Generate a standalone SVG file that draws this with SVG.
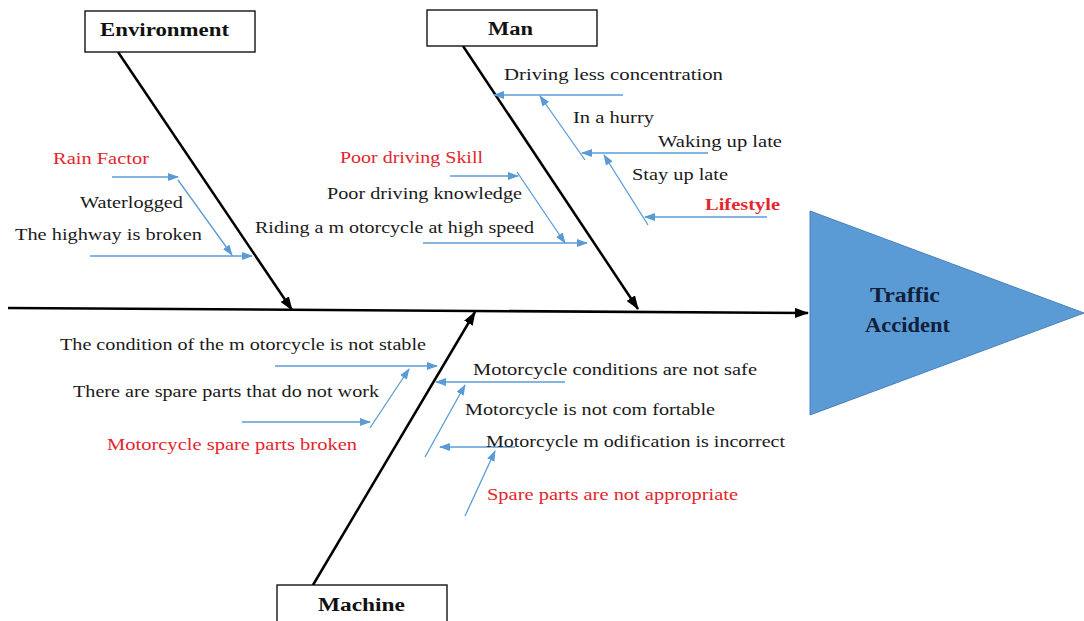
<svg xmlns="http://www.w3.org/2000/svg" width="1084" height="621" viewBox="0 0 1084 621">
<defs>
<marker id="ab" markerUnits="userSpaceOnUse" markerWidth="14" markerHeight="10" refX="13" refY="5" orient="auto"><path d="M0,0 L14,5 L0,10 Z" fill="#000"/></marker>
<marker id="au" markerUnits="userSpaceOnUse" markerWidth="11" markerHeight="8" refX="10" refY="4" orient="auto"><path d="M0,0 L11,4 L0,8 Z" fill="#5b9bd5"/></marker>
<style>
.bone{stroke:#000;stroke-width:2.5;fill:none;marker-end:url(#ab)}
.sub{stroke:#5b9bd5;stroke-width:1.3;fill:none;marker-end:url(#au)}
.box{fill:#fff;stroke:#000;stroke-width:1.3}
.t{font-family:"Liberation Serif","Times New Roman",serif;font-size:16.5px;fill:#1a1a1a}
.r{fill:#e3262d}
.b{font-weight:bold}
.h{font-family:"Liberation Serif","Times New Roman",serif;font-size:18px;font-weight:bold;fill:#111}
.ta{font-family:"Liberation Serif","Times New Roman",serif;font-size:21px;font-weight:bold;fill:#10203a}
</style>
</defs>
<rect width="1084" height="621" fill="#fff"/>
<g id="connectors">
<line class="bone" x1="8" y1="308" x2="808" y2="313"/>
<line class="bone" x1="118" y1="52" x2="292" y2="310"/>
<line class="bone" x1="463" y1="46" x2="638" y2="309"/>
<line class="bone" x1="313" y1="585" x2="475" y2="312"/>
<line class="sub" x1="112" y1="177" x2="178" y2="177"/>
<line class="sub" x1="178" y1="180" x2="232" y2="255"/>
<line class="sub" x1="90" y1="256" x2="252" y2="256"/>
<line class="sub" x1="450" y1="176" x2="518" y2="176"/>
<line class="sub" x1="517" y1="172" x2="565" y2="243"/>
<line class="sub" x1="423" y1="243" x2="587" y2="243"/>
<line class="sub" x1="623" y1="95" x2="494" y2="95"/>
<line class="sub" x1="585" y1="160" x2="540" y2="96"/>
<line class="sub" x1="708" y1="153" x2="582" y2="153"/>
<line class="sub" x1="648" y1="225" x2="604" y2="155"/>
<line class="sub" x1="767" y1="217" x2="645" y2="217"/>
<line class="sub" x1="275" y1="366" x2="437" y2="366"/>
<line class="sub" x1="370" y1="428" x2="409" y2="369"/>
<line class="sub" x1="242" y1="422" x2="370" y2="422"/>
<line class="sub" x1="565" y1="382" x2="436" y2="382"/>
<line class="sub" x1="425" y1="457" x2="465" y2="385"/>
<line class="sub" x1="515" y1="447" x2="440" y2="447"/>
<line class="sub" x1="465" y1="516" x2="495" y2="451"/>
</g>
<g id="environment">
<rect class="box" x="85" y="11" width="170" height="41"/>
<text class="h" x="100" y="36" textLength="129" lengthAdjust="spacingAndGlyphs">Environment</text>
</g>
<g id="man">
<rect class="box" x="427" y="10" width="170" height="36"/>
<text class="h" x="488" y="35" textLength="45" lengthAdjust="spacingAndGlyphs">Man</text>
</g>
<g id="machine">
<rect class="box" x="277" y="585" width="170" height="45"/>
<text class="h" x="318" y="611" textLength="87" lengthAdjust="spacingAndGlyphs">Machine</text>
</g>
<g id="traffic-accident">
<polygon points="810,211 1084,313 810,415" fill="#5b9bd5" stroke="#4a80bb" stroke-width="1"/>
<text class="ta" x="870" y="302" textLength="70" lengthAdjust="spacingAndGlyphs">Traffic</text>
<text class="ta" x="865" y="332" textLength="85" lengthAdjust="spacingAndGlyphs">Accident</text>
</g>
<g id="env-causes">
<text class="t r" x="53" y="164" textLength="96" lengthAdjust="spacingAndGlyphs">Rain Factor</text>
<text class="t" x="80" y="208" textLength="103" lengthAdjust="spacingAndGlyphs">Waterlogged</text>
<text class="t" x="15" y="240" textLength="187" lengthAdjust="spacingAndGlyphs">The highway is broken</text>
</g>
<g id="man-causes">
<text class="t r" x="340" y="163" textLength="143" lengthAdjust="spacingAndGlyphs">Poor driving Skill</text>
<text class="t" x="327" y="199" textLength="195" lengthAdjust="spacingAndGlyphs">Poor driving knowledge</text>
<text class="t" x="255" y="233" textLength="279" lengthAdjust="spacingAndGlyphs">Riding a m otorcycle at high speed</text>
<text class="t" x="504" y="80" textLength="219" lengthAdjust="spacingAndGlyphs">Driving less concentration</text>
<text class="t" x="573" y="123" textLength="81" lengthAdjust="spacingAndGlyphs">In a hurry</text>
<text class="t" x="658" y="147" textLength="124" lengthAdjust="spacingAndGlyphs">Waking up late</text>
<text class="t" x="632" y="180" textLength="96" lengthAdjust="spacingAndGlyphs">Stay up late</text>
<text class="t r b" x="705" y="210" textLength="75" lengthAdjust="spacingAndGlyphs">Lifestyle</text>
</g>
<g id="machine-causes">
<text class="t" x="60" y="350" textLength="366" lengthAdjust="spacingAndGlyphs">The condition of the m otorcycle is not stable</text>
<text class="t" x="73" y="397" textLength="306" lengthAdjust="spacingAndGlyphs">There are spare parts that do not work</text>
<text class="t r" x="107" y="450" textLength="250" lengthAdjust="spacingAndGlyphs">Motorcycle spare parts broken</text>
<text class="t" x="473" y="375" textLength="284" lengthAdjust="spacingAndGlyphs">Motorcycle conditions are not safe</text>
<text class="t" x="465" y="415" textLength="250" lengthAdjust="spacingAndGlyphs">Motorcycle is not com fortable</text>
<text class="t" x="486" y="447" textLength="299" lengthAdjust="spacingAndGlyphs">Motorcycle m odification is incorrect</text>
<text class="t r" x="487" y="500" textLength="251" lengthAdjust="spacingAndGlyphs">Spare parts are not appropriate</text>
</g>
</svg>
